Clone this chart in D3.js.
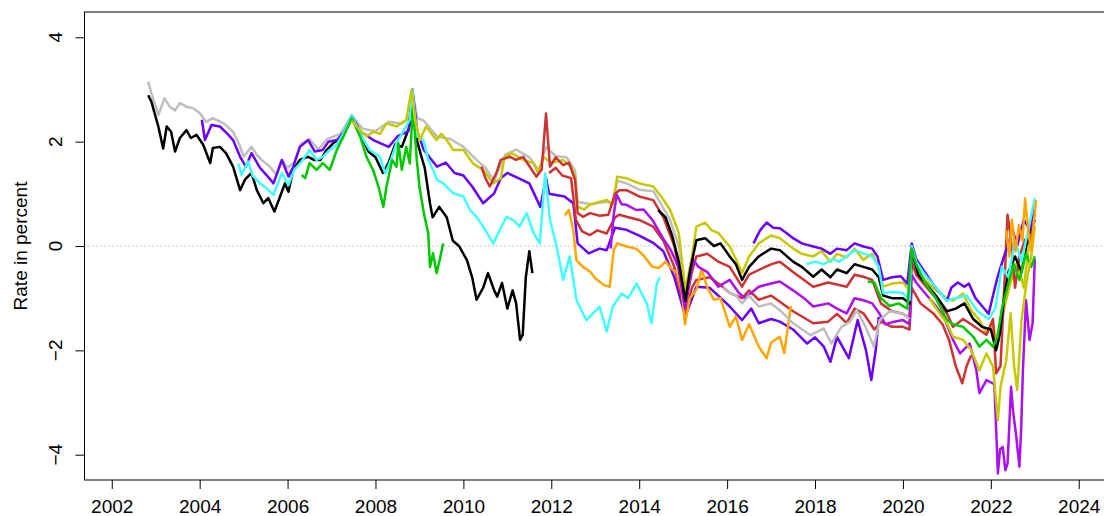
<!DOCTYPE html>
<html>
<head>
<meta charset="utf-8">
<script src="https://cdn.jsdelivr.net/npm/d3@7"></script>
<style>
    body { margin: 0; background: #fff; }
    svg { display: block; }
    text { font-family: "Liberation Sans", Arial, sans-serif; }
</style>
</head>
<body>
<div id="chart"></div>
<script>
//Ticks
const xTicks = [2002, 2004, 2006, 2008, 2010, 2012, 2014, 2016, 2018, 2020, 2022, 2024];
const yTicks = [-4, -2, 0, 2, 4];
const yTitle = 'Rate in percent';

//Series: [year, rate]
const gray1 = [[2002.83,3.15],[2002.9,2.93],[2003.06,2.51],[2003.2,2.83],[2003.32,2.67],[2003.44,2.6],[2003.55,2.74],[2003.7,2.67],[2003.85,2.64],[2004.0,2.55],[2004.15,2.38],[2004.3,2.45],[2004.55,2.35],[2004.76,2.19],[2004.9,1.95],[2005.0,1.71],[2005.18,1.9],[2005.3,1.75],[2005.41,1.65],[2005.6,1.52],[2005.75,1.36],[2005.87,1.65],[2006.0,1.5],[2006.15,1.6],[2006.3,1.95],[2006.5,2.05],[2006.7,1.85],[2006.9,2.05],[2007.2,2.15],[2007.46,2.5],[2007.7,2.25],[2008.0,2.2],[2008.3,2.38],[2008.6,2.35],[2008.78,2.45],[2008.84,2.95],[2008.95,2.45],[2009.1,2.4],[2009.4,2.1],[2009.7,2.05],[2010.0,1.9],[2010.3,1.65],[2010.5,1.5],[2010.7,1.25],[2010.95,1.75],[2011.2,1.85],[2011.5,1.7],[2011.72,1.45],[2011.88,1.9],[2012.1,1.72],[2012.35,1.7],[2012.54,1.45],[2012.6,0.85],[2012.9,0.8],[2013.26,0.85],[2013.4,0.8],[2013.5,1.25],[2013.71,1.2],[2014.0,1.08],[2014.32,1.05],[2014.5,0.8],[2014.7,0.5],[2014.9,0.0],[2015.05,-0.9]];
const black1 = [[2002.83,2.89],[2002.9,2.77],[2003.06,2.29],[2003.17,1.87],[2003.25,2.29],[2003.35,2.19],[2003.44,1.81],[2003.55,2.07],[2003.7,2.22],[2003.8,2.07],[2003.93,2.13],[2004.08,1.94],[2004.24,1.59],[2004.3,1.88],[2004.46,1.9],[2004.6,1.78],[2004.76,1.52],[2004.92,1.07],[2005.03,1.27],[2005.18,1.4],[2005.3,1.07],[2005.45,0.82],[2005.56,0.92],[2005.7,0.66],[2005.83,0.95],[2005.94,1.2],[2006.02,1.04],[2006.13,1.46],[2006.28,1.65],[2006.47,1.71],[2006.6,1.65],[2006.75,1.65],[2006.89,1.84],[2007.04,1.97],[2007.25,2.1],[2007.46,2.45],[2007.65,2.15],[2007.85,1.8],[2008.0,1.7],[2008.17,1.4],[2008.3,1.6],[2008.45,1.95],[2008.6,1.9],[2008.78,2.3],[2008.84,2.9],[2008.95,2.0],[2009.05,1.7],[2009.12,1.5],[2009.24,0.82],[2009.3,0.55],[2009.45,0.75],[2009.62,0.55],[2009.76,0.1],[2009.9,0.0],[2010.08,-0.27],[2010.2,-0.6],[2010.3,-1.03],[2010.45,-0.8],[2010.56,-0.52],[2010.7,-0.85],[2010.77,-0.97],[2010.88,-0.71],[2011.0,-1.2],[2011.12,-0.85],[2011.2,-1.1],[2011.29,-1.8],[2011.35,-1.7],[2011.42,-0.6],[2011.5,-0.1],[2011.57,-0.52]];
const violet1 = [[2004.05,2.42],[2004.12,2.03],[2004.27,2.32],[2004.46,2.29],[2004.61,2.17],[2004.76,2.03],[2004.92,1.71],[2005.05,1.52],[2005.18,1.78],[2005.37,1.5],[2005.52,1.36],[2005.68,1.2],[2005.87,1.65],[2006.02,1.33],[2006.13,1.52],[2006.28,1.9],[2006.47,2.03],[2006.62,1.81],[2006.8,1.84],[2006.93,2.0],[2007.12,2.03],[2007.3,2.2],[2007.46,2.5],[2007.65,2.2],[2007.95,2.03],[2008.3,1.9],[2008.5,2.1],[2008.75,2.2],[2008.84,3.0],[2008.95,2.2],[2009.1,1.84],[2009.4,1.52],[2009.6,1.6],[2009.8,1.4],[2010.0,1.35],[2010.2,1.14],[2010.45,0.82],[2010.7,1.01],[2010.85,1.3],[2011.0,1.4],[2011.25,1.3],[2011.5,1.2],[2011.75,0.75],[2011.88,1.3],[2011.95,1.0],[2012.3,0.95],[2012.5,0.82],[2012.6,0.05],[2012.85,-0.14],[2013.1,-0.05],[2013.26,-0.08],[2013.45,0.35],[2013.71,0.31],[2014.0,0.2],[2014.32,0.06],[2014.55,-0.1],[2014.8,-0.6],[2015.05,-1.35],[2015.3,-0.78],[2015.6,-0.8],[2015.8,-0.95],[2016.06,-1.16],[2016.34,-1.42],[2016.55,-1.2],[2016.72,-1.48],[2017.0,-1.4],[2017.2,-1.45],[2017.5,-1.6],[2017.82,-1.87],[2018.0,-1.75],[2018.2,-1.93],[2018.35,-2.22],[2018.5,-1.74],[2018.77,-2.15],[2018.97,-1.42],[2019.16,-2.0],[2019.28,-2.57],[2019.38,-2.0],[2019.45,-1.36]];
const cyan1 = [[2004.88,1.58],[2004.95,1.36],[2005.1,1.62],[2005.2,1.36],[2005.37,1.2],[2005.52,1.11],[2005.68,0.98],[2005.87,1.4],[2006.02,1.17],[2006.15,1.46],[2006.32,1.62],[2006.5,1.84],[2006.66,1.65],[2006.8,1.71],[2006.96,1.84],[2007.12,1.94],[2007.3,2.2],[2007.46,2.5],[2007.65,2.15],[2007.87,1.84],[2008.1,1.71],[2008.22,1.39],[2008.35,1.65],[2008.48,1.97],[2008.78,2.42],[2008.84,2.99],[2008.94,2.1],[2009.09,2.03],[2009.2,1.65],[2009.31,1.46],[2009.4,1.27],[2009.54,1.2],[2009.77,1.01],[2010.0,0.95],[2010.15,0.69],[2010.3,0.56],[2010.45,0.37],[2010.68,0.05],[2010.83,0.31],[2010.98,0.56],[2011.13,0.5],[2011.28,0.37],[2011.44,0.63],[2011.6,0.24],[2011.74,0.05],[2011.86,1.39],[2011.97,0.5],[2012.12,-0.01],[2012.27,-0.65],[2012.35,-0.4],[2012.42,-0.2],[2012.57,-1.03],[2012.72,-1.29],[2012.8,-1.42],[2012.95,-1.29],[2013.1,-1.16],[2013.26,-1.64],[2013.4,-1.16],[2013.6,-0.91],[2013.75,-1.0],[2013.94,-0.72],[2014.17,-1.1],[2014.28,-1.48],[2014.4,-0.72],[2014.47,-0.6]];
const green1 = [[2006.32,1.36],[2006.4,1.3],[2006.5,1.59],[2006.66,1.46],[2006.8,1.59],[2006.96,1.46],[2007.12,1.84],[2007.3,2.15],[2007.46,2.45],[2007.65,2.1],[2007.8,1.7],[2007.95,1.45],[2008.08,1.1],[2008.18,0.75],[2008.25,1.14],[2008.38,1.65],[2008.48,1.52],[2008.52,1.97],[2008.6,1.46],[2008.7,1.9],[2008.78,1.58],[2008.85,2.67],[2008.94,1.65],[2009.0,1.14],[2009.1,0.63],[2009.2,0.24],[2009.24,-0.4],[2009.31,-0.14],[2009.39,-0.52],[2009.46,-0.27],[2009.54,0.05]];
const yellow1 = [[2007.45,2.4],[2007.65,2.22],[2007.8,2.1],[2007.95,2.19],[2008.1,2.15],[2008.25,2.35],[2008.48,2.29],[2008.7,2.42],[2008.82,2.99],[2008.9,2.42],[2009.01,2.03],[2009.15,2.29],[2009.39,2.03],[2009.5,2.15],[2009.62,2.03],[2009.77,1.84],[2010.0,1.84],[2010.22,1.58],[2010.45,1.46],[2010.68,1.2],[2010.85,1.3],[2010.94,1.71],[2011.1,1.78],[2011.36,1.65],[2011.59,1.59],[2011.7,1.4],[2011.82,1.71],[2012.0,1.59],[2012.27,1.65],[2012.45,1.52],[2012.54,1.33],[2012.6,0.75],[2012.75,0.7],[2012.87,0.79],[2013.1,0.85],[2013.26,0.88],[2013.4,0.8],[2013.5,1.33],[2013.71,1.3],[2013.85,1.25],[2014.0,1.2],[2014.32,1.14],[2014.5,0.95],[2014.7,0.7],[2014.9,0.25],[2015.05,-0.85],[2015.2,-0.2],[2015.3,0.37],[2015.5,0.45],[2015.65,0.3],[2015.8,0.25],[2016.06,-0.01],[2016.2,-0.25],[2016.34,-0.52],[2016.5,-0.2],[2016.72,0.05],[2017.0,0.2],[2017.2,0.15],[2017.5,-0.05],[2017.7,-0.15],[2017.96,-0.2],[2018.15,-0.1],[2018.35,-0.3],[2018.5,-0.15],[2018.72,-0.22],[2018.9,-0.05],[2019.1,-0.27],[2019.3,-0.15],[2019.42,-0.35],[2019.55,-0.78],[2019.75,-0.72],[2020.0,-0.7],[2020.15,-0.84],[2020.2,-0.05],[2020.35,-0.5],[2020.5,-0.65],[2020.75,-0.85],[2021.0,-1.0],[2021.14,-1.05],[2021.37,-0.91],[2021.55,-1.23],[2021.74,-1.42],[2021.9,-1.67],[2022.05,-1.5],[2022.15,-1.9],[2022.3,-1.2],[2022.45,-0.7],[2022.6,-0.3],[2022.75,-0.8],[2022.9,0.24],[2023.0,0.5]];
const redA = [[2010.41,1.52],[2010.5,1.3],[2010.6,1.14],[2010.75,1.4],[2010.85,1.65],[2011.06,1.71],[2011.2,1.65],[2011.36,1.71],[2011.51,1.52],[2011.66,1.33],[2011.78,1.46],[2011.88,2.54],[2011.97,1.52],[2012.1,1.7],[2012.27,1.55],[2012.4,1.6],[2012.54,1.27],[2012.6,0.63],[2012.72,0.56],[2012.88,0.63],[2013.1,0.58],[2013.3,0.6],[2013.45,1.0],[2013.55,1.07],[2013.71,1.07],[2014.0,0.95],[2014.32,0.88],[2014.55,0.55],[2014.8,0.0],[2015.05,-1.1],[2015.2,-0.5],[2015.3,-0.2],[2015.55,-0.15],[2015.8,-0.3],[2016.06,-0.4],[2016.34,-0.78],[2016.5,-0.55],[2016.72,-0.46],[2017.0,-0.35],[2017.2,-0.3],[2017.5,-0.5],[2017.96,-0.78],[2018.3,-0.7],[2018.72,-0.78],[2018.9,-0.55],[2019.1,-0.59],[2019.3,-0.65],[2019.5,-1.1],[2019.75,-1.25],[2020.0,-1.3],[2020.15,-1.38],[2020.2,-0.3],[2020.3,-0.55],[2020.5,-0.75],[2020.75,-1.0],[2021.0,-1.29],[2021.14,-1.55],[2021.37,-1.4],[2021.55,-1.5],[2021.74,-1.61],[2021.9,-1.7],[2022.05,-1.4],[2022.12,-2.44],[2022.22,-2.3],[2022.3,-0.9],[2022.38,0.6],[2022.45,0.2],[2022.55,-0.8],[2022.65,-0.2],[2022.78,0.12],[2022.9,0.05],[2023.0,0.63]];
const redB = [[2011.95,1.4],[2012.1,1.5],[2012.25,1.35],[2012.45,1.3],[2012.56,0.5],[2012.7,0.28],[2012.88,0.21],[2013.05,0.3],[2013.26,0.24],[2013.45,0.55],[2013.55,0.6],[2013.71,0.56],[2014.0,0.5],[2014.32,0.37],[2014.55,0.1],[2014.8,-0.4],[2015.05,-1.25],[2015.2,-0.8],[2015.3,-0.65],[2015.6,-0.6],[2015.85,-0.75],[2016.06,-0.9],[2016.34,-1.0],[2016.5,-0.85],[2016.72,-1.03],[2017.0,-0.95],[2017.2,-1.07],[2017.5,-1.25],[2017.96,-1.48],[2018.3,-1.45],[2018.5,-1.3],[2018.72,-1.48],[2018.9,-1.2],[2019.1,-1.29],[2019.35,-1.6],[2019.5,-1.45],[2019.75,-1.55],[2020.0,-1.55],[2020.15,-1.6],[2020.2,-0.8],[2020.4,-1.1],[2020.7,-1.3],[2020.9,-1.5],[2021.05,-1.8],[2021.2,-2.3],[2021.35,-2.63],[2021.45,-2.3],[2021.55,-2.1]];
const orange1 = [[2012.31,0.59],[2012.4,0.69],[2012.5,0.3],[2012.57,-0.27],[2012.72,-0.4],[2012.88,-0.49],[2013.0,-0.62],[2013.2,-0.75],[2013.33,-0.78],[2013.42,-0.08],[2013.5,0.05],[2013.71,-0.01],[2013.93,-0.05],[2014.1,-0.18],[2014.3,-0.4],[2014.45,-0.42],[2014.6,-0.3],[2014.75,-0.45],[2014.85,-0.5],[2014.97,-0.88],[2015.04,-1.5],[2015.15,-1.0],[2015.3,-0.84],[2015.42,-0.45],[2015.55,-0.8],[2015.7,-1.03],[2015.85,-1.0],[2016.06,-1.55],[2016.2,-1.35],[2016.34,-1.8],[2016.5,-1.5],[2016.72,-1.93],[2016.9,-2.15],[2017.0,-1.85],[2017.2,-1.74],[2017.3,-2.05],[2017.45,-1.15]];
const purple1 = [[2013.35,-0.05],[2013.42,0.6],[2013.49,0.98],[2013.6,0.8],[2013.71,0.79],[2013.93,0.69],[2014.1,0.7],[2014.3,0.5],[2014.57,0.11],[2014.72,-0.08],[2014.89,-0.4],[2015.04,-1.2],[2015.23,-0.27],[2015.35,-0.4],[2015.55,-0.5],[2015.8,-0.78],[2016.06,-0.65],[2016.27,-0.9],[2016.4,-1.0],[2016.72,-0.78],[2017.0,-0.72],[2017.2,-0.68],[2017.5,-0.85],[2017.75,-1.0],[2017.96,-1.16],[2018.3,-1.1],[2018.5,-1.2],[2018.72,-1.29],[2018.9,-1.0],[2019.1,-1.04],[2019.3,-1.1],[2019.47,-1.3],[2019.6,-1.5],[2019.8,-1.45],[2020.0,-1.42],[2020.15,-1.5],[2020.2,-0.55],[2020.3,-0.7],[2020.5,-0.9],[2020.75,-1.15],[2020.95,-1.4],[2021.14,-1.8],[2021.3,-2.06],[2021.52,-1.87],[2021.67,-2.38],[2021.74,-2.82],[2021.9,-2.57],[2022.08,-2.65],[2022.16,-4.36],[2022.21,-3.9],[2022.27,-3.85],[2022.33,-4.3],[2022.38,-4.17],[2022.46,-2.7],[2022.51,-3.2],[2022.57,-3.59],[2022.65,-4.23],[2022.69,-3.5],[2022.73,-2.38],[2022.8,-1.04],[2022.88,-1.8],[2022.95,-1.48],[2023.0,-0.25]];
const black2 = [[2014.43,0.69],[2014.6,0.55],[2014.75,0.2],[2014.9,-0.3],[2015.05,-1.05],[2015.15,-0.5],[2015.3,0.11],[2015.5,0.15],[2015.7,0.0],[2015.85,0.05],[2016.06,-0.2],[2016.2,-0.35],[2016.34,-0.65],[2016.5,-0.4],[2016.72,-0.2],[2017.0,-0.05],[2017.2,-0.08],[2017.5,-0.3],[2017.7,-0.4],[2017.96,-0.59],[2018.15,-0.45],[2018.35,-0.6],[2018.5,-0.45],[2018.72,-0.52],[2018.9,-0.35],[2019.1,-0.4],[2019.3,-0.45],[2019.45,-0.6],[2019.55,-0.95],[2019.75,-1.0],[2020.0,-1.0],[2020.15,-1.1],[2020.2,-0.1],[2020.35,-0.55],[2020.5,-0.7],[2020.75,-0.95],[2021.0,-1.25],[2021.2,-1.2],[2021.4,-1.1],[2021.6,-1.4],[2021.8,-1.55],[2022.0,-1.6],[2022.12,-2.0],[2022.2,-1.7],[2022.3,-1.0],[2022.4,-0.5],[2022.55,-0.2],[2022.7,-0.5],[2022.85,0.2],[2023.0,0.5]];
const gray2 = [[2015.9,-0.8],[2016.06,-0.9],[2016.2,-0.95],[2016.34,-1.1],[2016.5,-0.95],[2016.72,-1.16],[2017.0,-1.1],[2017.2,-1.23],[2017.5,-1.48],[2017.9,-1.71],[2018.2,-1.58],[2018.37,-1.87],[2018.6,-1.55],[2018.8,-1.45],[2018.95,-1.23],[2019.15,-1.55],[2019.34,-1.93],[2019.47,-1.42],[2019.7,-1.25],[2020.0,-1.3],[2020.15,-1.4]];
const violet2 = [[2016.6,0.05],[2016.75,0.3],[2016.9,0.45],[2017.05,0.35],[2017.2,0.34],[2017.35,0.25],[2017.5,0.15],[2017.7,0.05],[2017.96,-0.01],[2018.15,-0.05],[2018.35,-0.15],[2018.5,-0.05],[2018.72,-0.08],[2018.9,0.05],[2019.1,-0.01],[2019.3,-0.05],[2019.42,-0.2],[2019.55,-0.65],[2019.75,-0.6],[2019.95,-0.58],[2020.1,-0.72],[2020.2,0.05],[2020.3,-0.25],[2020.5,-0.5],[2020.7,-0.75],[2020.9,-0.95],[2021.0,-1.05],[2021.1,-0.8],[2021.25,-0.7],[2021.4,-0.78],[2021.5,-0.72],[2021.65,-1.0],[2021.8,-1.15],[2021.95,-1.3],[2022.05,-0.95],[2022.15,-0.6],[2022.3,-0.2],[2022.5,0.3],[2022.6,0.0],[2022.75,0.5],[2022.9,0.3],[2023.0,0.75]];
const cyan2 = [[2017.8,-0.35],[2018.0,-0.3],[2018.2,-0.35],[2018.4,-0.25],[2018.55,-0.3],[2018.72,-0.2],[2018.9,-0.08],[2019.1,-0.14],[2019.3,-0.2],[2019.45,-0.4],[2019.55,-0.9],[2019.8,-0.88],[2020.0,-0.9],[2020.15,-1.04],[2020.2,0.0],[2020.3,-0.3],[2020.5,-0.55],[2020.75,-0.8],[2021.0,-1.05],[2021.2,-1.0],[2021.45,-0.95],[2021.7,-1.25],[2021.95,-1.4],[2022.1,-1.2],[2022.25,-0.4],[2022.4,-0.6],[2022.55,0.1],[2022.7,-0.3],[2022.85,0.3],[2023.0,0.92]];
const green2 = [[2019.2,-0.68],[2019.35,-0.7],[2019.5,-1.0],[2019.7,-1.15],[2019.9,-1.1],[2020.1,-1.2],[2020.2,-0.05],[2020.3,-0.35],[2020.5,-0.7],[2020.75,-1.0],[2021.0,-1.42],[2021.14,-1.5],[2021.37,-1.55],[2021.6,-1.74],[2021.74,-1.93],[2021.9,-1.8],[2022.05,-1.93],[2022.15,-1.75],[2022.25,-1.2],[2022.38,-0.78],[2022.52,-0.35],[2022.65,-0.65],[2022.8,-0.15],[2022.92,-0.4],[2023.0,-0.2]];
const yellow2 = [[2020.6,-1.0],[2020.8,-1.25],[2021.0,-1.48],[2021.14,-1.74],[2021.37,-1.8],[2021.55,-1.99],[2021.74,-2.38],[2021.9,-2.06],[2022.05,-2.31],[2022.16,-3.34],[2022.22,-2.7],[2022.35,-2.19],[2022.45,-1.29],[2022.53,-2.31],[2022.6,-2.76],[2022.7,-1.4],[2022.82,-0.65],[2022.93,-0.14],[2023.0,0.37]];
const orange2 = [[2022.35,0.3],[2022.42,-0.2],[2022.48,0.5],[2022.56,-0.1],[2022.64,0.4],[2022.72,0.1],[2022.78,0.91],[2022.85,0.3],[2022.92,-0.1],[2022.97,0.4],[2023.03,0.88]];

//Colores
const GRAY = '#bebebe', BLACK = '#000000', VIOLET = '#6a00ff', CYAN = '#40ffff',
    GREEN = '#00c800', YELLOW = '#c8c800', RED = '#cd3333', ORANGE = '#ffa500', PURPLE = '#aa10f0';

const series = [
    {data: gray1, color: GRAY}, {data: black1, color: BLACK}, {data: violet1, color: VIOLET},
    {data: cyan1, color: CYAN}, {data: green1, color: GREEN}, {data: yellow1, color: YELLOW},
    {data: redA, color: RED}, {data: redB, color: RED}, {data: orange1, color: ORANGE},
    {data: purple1, color: PURPLE}, {data: black2, color: BLACK}, {data: gray2, color: GRAY},
    {data: violet2, color: VIOLET}, {data: cyan2, color: CYAN}, {data: green2, color: GREEN},
    {data: yellow2, color: YELLOW}, {data: orange2, color: ORANGE}
];

let width = 1104, height = 516;
let plot = {left: 84.5, right: 1106, top: 12, bottom: 480};

let svg = d3.select('#chart')
    .append('svg')
    .attr('width', width)
    .attr('height', height);

let x = d3.scaleLinear()
    .domain([2001.38, 2024.62])
    .range([plot.left, plot.right]);

let y = d3.scaleLinear()
    .domain([-4.485, 4.485])
    .range([plot.bottom, plot.top]);

svg.append('clipPath')
    .attr('id', 'clip')
    .append('rect')
    .attr('x', plot.left)
    .attr('y', plot.top)
    .attr('width', plot.right - plot.left)
    .attr('height', plot.bottom - plot.top);

//Linea del cero
svg.append('line')
    .attr('x1', plot.left)
    .attr('x2', plot.right)
    .attr('y1', y(0))
    .attr('y2', y(0))
    .attr('stroke', '#8c8c8c')
    .attr('stroke-width', 1)
    .attr('stroke-dasharray', '1,3');

let line = d3.line()
    .x(function(d) { return x(d[0]); })
    .y(function(d) { return y(d[1]); });

svg.append('g')
    .attr('clip-path', 'url(#clip)')
    .selectAll('path')
    .data(series)
    .enter()
    .append('path')
    .attr('d', function(d) { return line(d.data); })
    .attr('fill', 'none')
    .attr('stroke', function(d) { return d.color; })
    .attr('stroke-width', 2.5)
    .attr('stroke-linejoin', 'round');

//Caja
svg.append('rect')
    .attr('x', plot.left)
    .attr('y', plot.top)
    .attr('width', plot.right - plot.left)
    .attr('height', plot.bottom - plot.top)
    .attr('fill', 'none')
    .attr('stroke', '#000')
    .attr('stroke-width', 1);

//Eje X
let xAxis = svg.append('g')
    .attr('transform', 'translate(0,' + plot.bottom + ')')
    .call(d3.axisBottom(x).tickValues(xTicks).tickSize(9).tickPadding(10.5).tickFormat(d3.format('d')));
xAxis.select('.domain').remove();
xAxis.selectAll('text')
    .attr('fill', '#000')
    .style('font-size', '19px');

//Eje Y
let yAxis = svg.append('g')
    .attr('transform', 'translate(' + plot.left + ',0)')
    .call(d3.axisLeft(y).tickValues(yTicks).tickSize(9).tickFormat(''));
yAxis.select('.domain').remove();

svg.append('g')
    .selectAll('text')
    .data(yTicks)
    .enter()
    .append('text')
    .attr('transform', function(d) { return 'translate(62,' + y(d) + ') rotate(-90)'; })
    .attr('text-anchor', 'middle')
    .style('font-size', '19px')
    .text(function(d) { return d < 0 ? '\u2212' + Math.abs(d) : d; });

svg.append('text')
    .attr('transform', 'translate(27,' + ((plot.top + plot.bottom) / 2) + ') rotate(-90)')
    .attr('text-anchor', 'middle')
    .style('font-size', '19px')
    .text(yTitle);
</script>
</body>
</html>
